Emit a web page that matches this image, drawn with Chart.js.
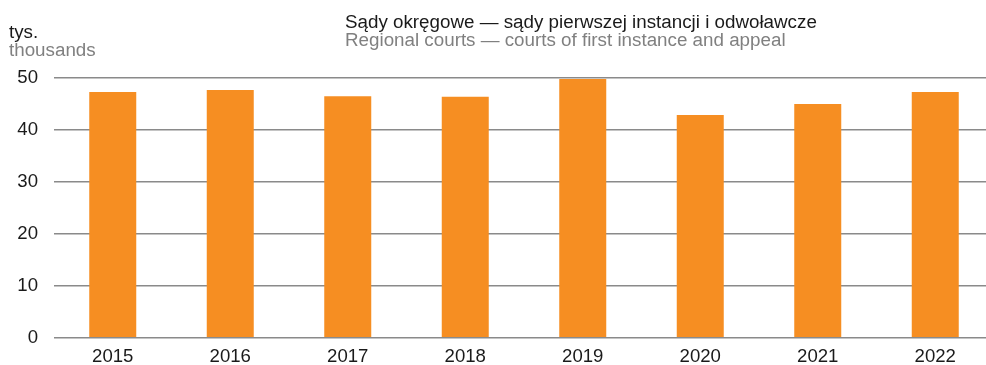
<!DOCTYPE html>
<html>
<head>
<meta charset="utf-8">
<script src="https://cdn.jsdelivr.net/npm/chart.js@4"></script>
<style>
  html, body { margin: 0; padding: 0; background: #fff; overflow: hidden; }
  #wrap { width: 994px; height: 365px; }
</style>
</head>
<body>
<div id="wrap"><canvas id="courtsChart" width="994" height="365"></canvas></div>
<script>
// data (thousands)
const years = ["2015", "2016", "2017", "2018", "2019", "2020", "2021", "2022"];
const cases = [47.3, 47.7, 46.5, 46.4, 49.8, 42.9, 45.0, 47.3];
const yTicks = [0, 10, 20, 30, 40, 50];

const titlePl = "Sądy okręgowe — sądy pierwszej instancji i odwoławcze";
const titleEn = "Regional courts — courts of first instance and appeal";
const unitPl = "tys.";
const unitEn = "thousands";

const FONT = "'Liberation Sans', Arial, sans-serif";

// headers drawn straight on the canvas
const headerText = {
    id: "headerText",
    afterDraw(chart) {
        const c = chart.ctx;
        c.save();
        c.font = "18.8px " + FONT;
        c.textAlign = "left";
        c.textBaseline = "alphabetic";
        c.fillStyle = "#1a1a1a";
        c.fillText(titlePl, 345, 28);
        c.fillText(unitPl, 9, 38);
        c.fillStyle = "#808080";
        c.fillText(titleEn, 345, 46);
        c.fillText(unitEn, 9, 56);
        c.restore();
    }
};

const ctx = document.getElementById("courtsChart").getContext("2d");
new Chart(ctx, {
    type: "bar",
    data: {
        labels: years,
        datasets: [{
            data: cases,
            backgroundColor: "#f68e22",
            borderWidth: 0,
            categoryPercentage: 1,
            barPercentage: 0.4
        }]
    },
    options: {
        responsive: false,
        animation: false,
        events: [],
        layout: { padding: { top: 78, right: 0, left: 0, bottom: 0 } },
        plugins: {
            legend: { display: false },
            tooltip: { enabled: false }
        },
        scales: {
            x: {
                grid: { display: false, drawTicks: false },
                border: { display: false },
                ticks: { color: "#1a1a1a", font: { family: FONT, size: 18.6 }, padding: 8, maxRotation: 0 },
                afterFit(scale) { scale.height = 26; }
            },
            y: {
                min: 0,
                max: 50,
                afterBuildTicks(scale) { scale.ticks = yTicks.map(v => ({ value: v })); },
                grid: { color: "#8a8a8a", lineWidth: 1.5, drawTicks: false },
                border: { display: false },
                ticks: { color: "#1a1a1a", font: { family: FONT, size: 18.6 }, padding: 16 },
                afterFit(scale) { scale.width = 54; }
            }
        }
    },
    plugins: [headerText]
});
</script>
</body>
</html>
